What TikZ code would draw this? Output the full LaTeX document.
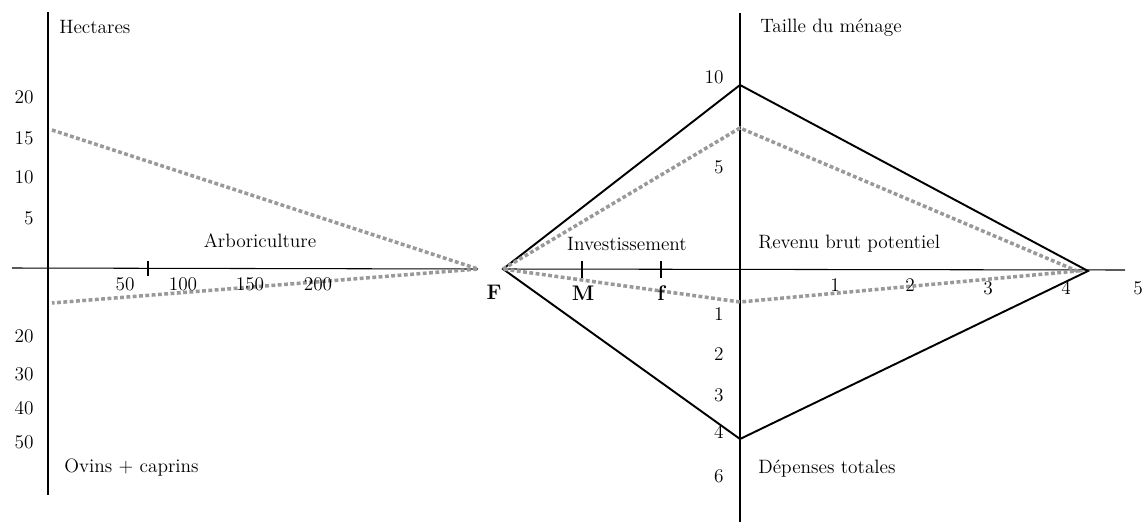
\documentclass[tikz,border=0pt]{standalone}
\usepackage{tikz}
\usetikzlibrary{positioning}
\definecolor{meangray}{rgb}{0.6,0.6,0.6}

\begin{document}
\begin{tikzpicture}[x=0.02cm, y=-0.02cm,
    axis/.style={line width=0.6pt},
    tick/.style={line width=0.6pt},
    boldtick/.style={line width=1.2pt},
    profile/.style={line width=1.1pt, line join=miter},
    mean/.style={meangray, line width=2pt, dash pattern=on 2.2pt off 1.4pt},
    lbl/.style={font=\fontsize{11}{12}\selectfont, inner sep=0pt},
    num/.style={font=\fontsize{11}{12}\selectfont, inner sep=0pt},
    pointlbl/.style={font=\fontsize{12}{13}\selectfont\bfseries, inner sep=0pt}
]
\useasboundingbox (0,0) rectangle (1145,524);

% left panel: axes
\coordinate (hTop) at (48,12);
\coordinate (hBot) at (48,495);
\coordinate (aL) at (12,268);
\coordinate (apex) at (478,269);
\draw[axis] (hTop) -- (hBot);
\draw[axis] (aL) -- (apex);
\draw[tick] (148,261) -- (148,276);

% left panel: mean profile
\coordinate (arbo) at (52,130);
\coordinate (ovins) at (52,303);
\draw[mean] (arbo) -- (apex) -- (ovins);

% right panel: axes
\coordinate (F) at (503,269);
\coordinate (vTop) at (740,13);
\coordinate (vBot) at (740,522);
\coordinate (xEnd) at (1125,270);
\draw[axis] (vTop) -- (vBot);
\draw[axis] (F) -- (xEnd);
\draw[boldtick] (582,261) -- (582,278);
\draw[boldtick] (661,261) -- (661,278);

% right panel: farm profile
\coordinate (taille) at (740,85);
\coordinate (revenu) at (1088,271);
\coordinate (depenses) at (740,439);
\draw[profile] (F) -- (taille) -- (revenu) -- (depenses) -- cycle;

% right panel: mean profile
\coordinate (tailleM) at (740,128);
\coordinate (revenuM) at (1077,271);
\coordinate (depensesM) at (740,302);
\draw[mean] (F) -- (tailleM) -- (revenuM) -- (depensesM) -- (F);

% axis titles
\node[lbl, anchor=west] (hect) at (59,27) {Hectares};
\node[lbl, anchor=west] (ovcap) at (64,468) {Ovins + caprins};
\node[lbl] (arbor) at (260,241) {Arboriculture};
\node[lbl, anchor=west] (taillet) at (760,28) {Taille du ménage};
\node[lbl, anchor=west] (dept) at (758,469) {Dépenses totales};
\node[lbl] (invest) at (627,244) {Investissement};
\node[lbl, anchor=west] (revt) at (758,244) {Revenu brut potentiel};

% scale numbers, left panel
\foreach \v/\y in {20/97, 15/138, 10/177, 5/218, 20/336, 30/374, 40/408, 50/442}
  \node[num, anchor=east] at (34,\y) {\v};
\foreach \v/\x in {50/125, 100/183, 150/250, 200/318}
  \node[num] at (\x,284) {\v};

% scale numbers, right panel
\foreach \v/\y in {10/77, 5/167, 1/314, 2/354, 3/395, 4/432, 6/476}
  \node[num, anchor=east] at (724,\y) {\v};
\foreach \v/\x/\y in {1/835/285, 2/910/285, 3/988/288, 4/1066/288, 5/1138/288}
  \node[num] at (\x,\y) {\v};

% farm types
\node[pointlbl] (Flbl) at (494,292) {F};
\node[pointlbl] (Mlbl) at (583,293) {M};
\node[pointlbl] (flbl) at (661,293) {f};
\end{tikzpicture}
\end{document}
